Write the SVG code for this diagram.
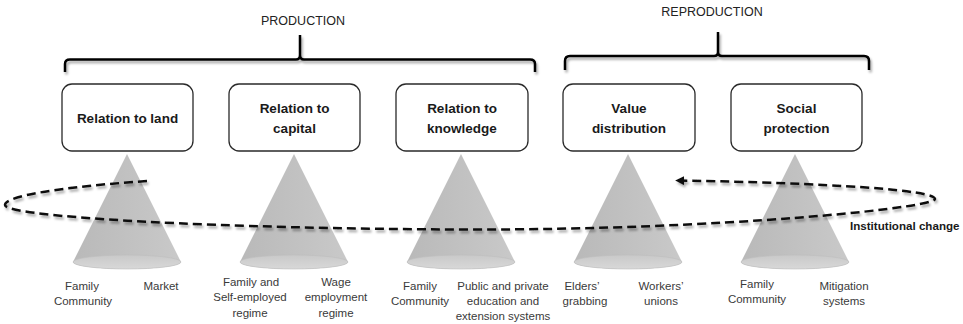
<svg xmlns="http://www.w3.org/2000/svg" width="963" height="324" viewBox="0 0 963 324">
<defs>
<style>
.box{fill:#fff;stroke:#2a2a2a;stroke-width:1.3}
.title{font-family:"Liberation Sans",Arial,sans-serif;font-weight:bold;font-size:13.5px;fill:#1a1a1a;text-anchor:middle}
.head{font-family:"Liberation Sans",Arial,sans-serif;font-size:12.5px;fill:#222;text-anchor:middle}
.lab{font-family:"Liberation Sans",Arial,sans-serif;font-size:11.5px;fill:#3a3a3a;text-anchor:middle}
.cone{fill:url(#coneGrad)}
.base{fill:url(#baseGrad);stroke:#bdbdbd;stroke-width:0.6}
.brace{fill:none;stroke:#000;stroke-width:2.5;stroke-linejoin:round}
.loop{fill:none;stroke:#111;stroke-width:2.5;stroke-dasharray:9 5}
</style>
<linearGradient id="coneGrad" x1="0" y1="0" x2="1" y2="0">
<stop offset="0" stop-color="#b9b9b9"/>
<stop offset="1" stop-color="#c9c9c9"/>
</linearGradient>
<linearGradient id="baseGrad" x1="0" y1="0" x2="0" y2="1">
<stop offset="0" stop-color="#c9c9c9"/>
<stop offset="1" stop-color="#d8d8d8"/>
</linearGradient>
<filter id="shadow" x="-5%" y="-30%" width="110%" height="160%">
<feDropShadow dx="1.5" dy="2.5" stdDeviation="1.2" flood-color="#000" flood-opacity="0.35"/>
</filter>
<marker id="arrow" viewBox="0 0 10 10" refX="8" refY="5" markerWidth="3.6" markerHeight="3.6" orient="auto" markerUnits="strokeWidth">
<path d="M0,0 L10,5 L0,10 Z" fill="#111"/>
</marker>
</defs>
<rect width="963" height="324" fill="#fff"/>

<g id="production">
<text class="head" x="303" y="25">PRODUCTION</text>
<path class="brace" filter="url(#shadow)" d="M65,72 V64 Q65,59.5 70,59.5 H296 Q300,59.5 300,55 V35 M300,55 Q300,59.5 304,59.5 H530 Q535,59.5 535,64 V72"/>
</g>
<g id="reproduction">
<text class="head" x="712" y="16">REPRODUCTION</text>
<path class="brace" filter="url(#shadow)" d="M565,70 V61 Q565,56 570,56 H714 Q718,56 718,52 V32 M718,52 Q718,56 722,56 H864 Q869,56 869,61 V70"/>
</g>

<g id="node-land">
<rect class="box" x="62" y="84" width="131" height="67" rx="10"/>
<text class="title" x="127.5" y="122.5">Relation to land</text>
</g>
<g id="node-capital">
<rect class="box" x="229" y="84" width="131" height="67" rx="10"/>
<text class="title" x="294.5" y="113">Relation to</text>
<text class="title" x="294.5" y="132.5">capital</text>
</g>
<g id="node-knowledge">
<rect class="box" x="396" y="84" width="132" height="67" rx="10"/>
<text class="title" x="462" y="113">Relation to</text>
<text class="title" x="462" y="132.5">knowledge</text>
</g>
<g id="node-value">
<rect class="box" x="563" y="84" width="132" height="67" rx="10"/>
<text class="title" x="629" y="113">Value</text>
<text class="title" x="629" y="132.5">distribution</text>
</g>
<g id="node-social">
<rect class="box" x="731" y="84" width="131" height="67" rx="10"/>
<text class="title" x="796.5" y="113">Social</text>
<text class="title" x="796.5" y="132.5">protection</text>
</g>

<g id="cone-land">
<path class="cone" d="M127,154 L181,262 A54,7 0 0 1 73,262 Z"/>
<ellipse class="base" cx="127" cy="262" rx="54" ry="7"/>
<text class="lab" x="82" y="290">Family</text>
<text class="lab" x="83" y="305">Community</text>
<text class="lab" x="161" y="290">Market</text>
</g>
<g id="cone-capital">
<path class="cone" d="M294,154 L348,262 A54,7 0 0 1 240,262 Z"/>
<ellipse class="base" cx="294" cy="262" rx="54" ry="7"/>
<text class="lab" x="251" y="286">Family and</text>
<text class="lab" x="250" y="301">Self-employed</text>
<text class="lab" x="250" y="317">regime</text>
<text class="lab" x="336" y="286">Wage</text>
<text class="lab" x="336" y="301">employment</text>
<text class="lab" x="336" y="317">regime</text>
</g>
<g id="cone-knowledge">
<path class="cone" d="M461,154 L515,262 A54,7 0 0 1 407,262 Z"/>
<ellipse class="base" cx="461" cy="262" rx="54" ry="7"/>
<text class="lab" x="420" y="290">Family</text>
<text class="lab" x="420" y="305">Community</text>
<text class="lab" x="503" y="290">Public and private</text>
<text class="lab" x="503" y="305">education and</text>
<text class="lab" x="503" y="320">extension systems</text>
</g>
<g id="cone-value">
<path class="cone" d="M628,154 L682,262 A54,7 0 0 1 574,262 Z"/>
<ellipse class="base" cx="628" cy="262" rx="54" ry="7"/>
<text class="lab" x="582" y="290">Elders’</text>
<text class="lab" x="585" y="305">grabbing</text>
<text class="lab" x="661" y="290">Workers’</text>
<text class="lab" x="661" y="305">unions</text>
</g>
<g id="cone-social">
<path class="cone" d="M795,154 L849,262 A54,7 0 0 1 741,262 Z"/>
<ellipse class="base" cx="795" cy="262" rx="54" ry="7"/>
<text class="lab" x="757" y="288">Family</text>
<text class="lab" x="757" y="303">Community</text>
<text class="lab" x="844" y="290">Mitigation</text>
<text class="lab" x="844" y="305">systems</text>
</g>

<g id="connectors">
<path class="loop" filter="url(#shadow)" marker-end="url(#arrow)" d="M147,181 C60,187 5,196 5,205 C5,217 220,229 470,229.5 C720,230 935,208 935,199 C935,190 830,183 677,180.5"/>
<text x="850" y="230" style="font-family:'Liberation Sans',Arial,sans-serif;font-weight:bold;font-size:11.6px;fill:#1a1a1a">Institutional change</text>
</g>
</svg>
